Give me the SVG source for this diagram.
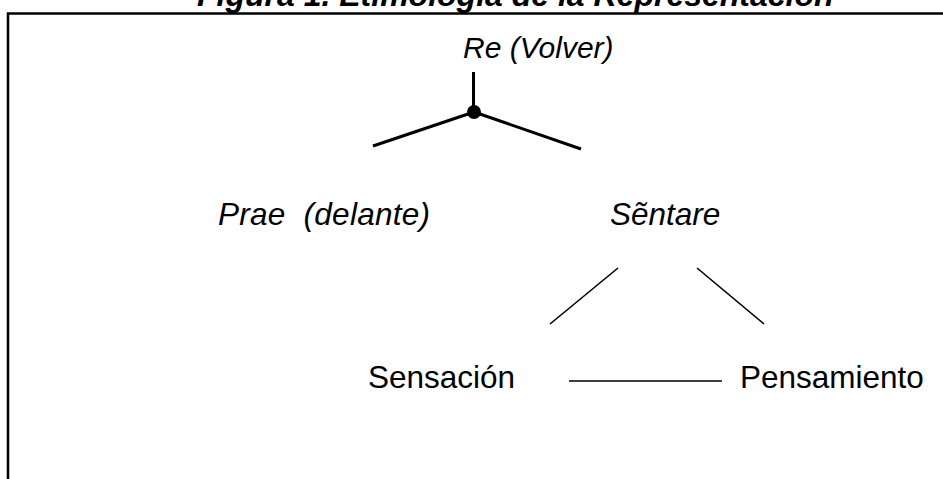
<svg xmlns="http://www.w3.org/2000/svg" width="943" height="479" viewBox="0 0 943 479">
<style>
text{font-family:"Liberation Sans",Arial,sans-serif;font-size:31.5px;fill:#000}
.it{font-style:italic}
.re{font-size:30px}
.title{font-style:italic;font-weight:bold;font-size:32px}
.thin{stroke:#000;stroke-width:1.6;fill:none}
.thick{stroke:#000;stroke-width:3;fill:none}
</style>
<rect width="943" height="479" fill="#fff"/>
<text class="title" x="197" y="6">Figura 1. Etimología de la Representación</text>
<g id="frame">
<path d="M8,479 V13.5 H943" stroke="#000" stroke-width="2.5" fill="none"/>
</g>
<g id="connectors">
<line class="thick" x1="473.5" y1="72" x2="473.5" y2="112"/>
<line class="thick" x1="474" y1="112" x2="373" y2="146"/>
<line class="thick" x1="474" y1="112" x2="581" y2="149"/>
<circle cx="474" cy="112" r="7"/>
<line class="thin" x1="618" y1="268" x2="550" y2="324"/>
<line class="thin" x1="697" y1="268" x2="764" y2="324"/>
<line class="thin" x1="569" y1="381" x2="722" y2="381"/>
</g>
<g id="node-re"><text class="it re" x="463" y="58">Re (Volver)</text></g>
<g id="node-prae"><text class="it" x="218" y="225" xml:space="preserve" textLength="212" lengthAdjust="spacing">Prae  (delante)</text></g>
<g id="node-sentare"><text class="it" x="610" y="225">Sẽntare</text></g>
<g id="node-sensacion"><text x="368" y="388">Sensación</text></g>
<g id="node-pensamiento"><text x="740" y="388">Pensamiento</text></g>
</svg>
